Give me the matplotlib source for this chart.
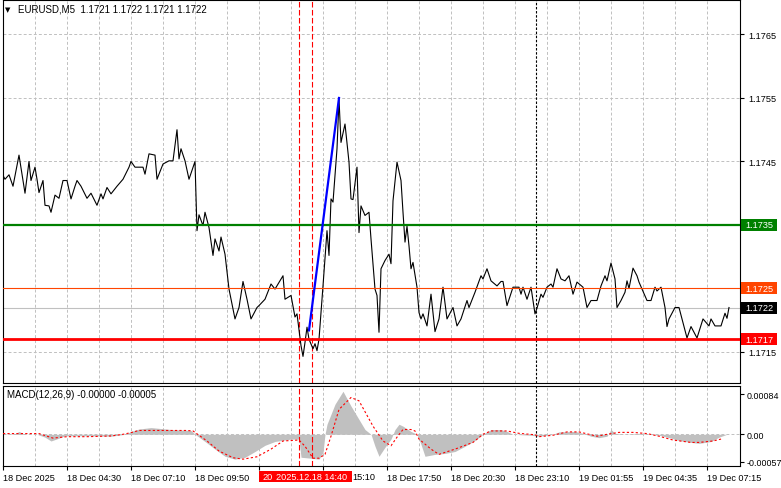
import matplotlib
matplotlib.use("Agg")
import matplotlib.pyplot as plt
import matplotlib.transforms as mtransforms
from matplotlib.patches import Rectangle

plt.rcParams['font.family'] = ['Liberation Sans', 'DejaVu Sans']

# EURUSD M5 close line, bar index from the left edge of the chart
bars = [0, 1, 3, 5, 8, 11, 13, 14, 16, 17, 18, 20, 21, 23, 24, 26, 28, 30, 32, 34,
        36, 37, 39, 42, 44, 47, 49, 50, 52, 54, 57, 60, 63, 64, 66, 70, 71, 73, 76, 77,
        80, 83, 85, 87, 88, 89, 91, 93, 95, 96, 97, 98, 100, 101, 103, 105, 106, 108, 109, 111,
        113, 116, 118, 120, 122, 124, 127, 128, 131, 134, 136, 139, 140, 141, 144, 146, 147, 149, 150, 151,
        152, 153, 155, 156, 157, 158, 159, 160, 162, 163, 164, 165, 167, 168, 169, 171, 173, 174, 175, 177,
        178, 179, 181, 183, 184, 186, 187, 188, 189, 191, 193, 194, 195, 197, 199, 200, 201, 202, 203, 204,
        205, 207, 208, 209, 210, 212, 214, 216, 218, 220, 222, 225, 227, 229, 232, 233, 236, 239, 240, 242,
        244, 247, 249, 250, 252, 255, 258, 259, 260, 262, 264, 266, 267, 269, 270, 272, 274, 275, 277, 279,
        281, 283, 285, 287, 290, 292, 294, 297, 299, 301, 302, 304, 306, 307, 309, 311, 312, 313, 315, 317,
        318, 322, 324, 326, 327, 329, 331, 332, 333, 336, 338, 342, 344, 347, 350, 353, 354, 356, 359, 361,
        362, 363]
closes = [1.17428, 1.17422, 1.17429, 1.17411, 1.17460, 1.17400, 1.17450, 1.17420, 1.17441, 1.17422,
          1.17401, 1.17420, 1.17381, 1.17380, 1.17370, 1.17397, 1.17392, 1.17420, 1.17420, 1.17391,
          1.17411, 1.17420, 1.17411, 1.17392, 1.17400, 1.17381, 1.17399, 1.17391, 1.17409, 1.17399,
          1.17411, 1.17422, 1.17441, 1.17450, 1.17441, 1.17441, 1.17430, 1.17462, 1.17460, 1.17422,
          1.17446, 1.17451, 1.17451, 1.17500, 1.17454, 1.17470, 1.17451, 1.17422, 1.17441, 1.17450,
          1.17341, 1.17366, 1.17349, 1.17370, 1.17346, 1.17302, 1.17328, 1.17309, 1.17331, 1.17304,
          1.17249, 1.17202, 1.17220, 1.17261, 1.17233, 1.17202, 1.17220, 1.17223, 1.17233, 1.17257,
          1.17249, 1.17265, 1.17270, 1.17233, 1.17239, 1.17205, 1.17210, 1.17160, 1.17143, 1.17165,
          1.17189, 1.17170, 1.17155, 1.17163, 1.17152, 1.17170, 1.17212, 1.17254, 1.17341, 1.17302,
          1.17391, 1.17386, 1.17470, 1.17548, 1.17480, 1.17509, 1.17449, 1.17391, 1.17390, 1.17441,
          1.17338, 1.17380, 1.17365, 1.17370, 1.17328, 1.17249, 1.17239, 1.17181, 1.17281, 1.17294,
          1.17304, 1.17289, 1.17388, 1.17449, 1.17420, 1.17370, 1.17323, 1.17348, 1.17317, 1.17281,
          1.17291, 1.17252, 1.17212, 1.17202, 1.17210, 1.17191, 1.17241, 1.17182, 1.17202, 1.17252,
          1.17202, 1.17220, 1.17191, 1.17202, 1.17231, 1.17220, 1.17244, 1.17270, 1.17265, 1.17281,
          1.17262, 1.17254, 1.17261, 1.17261, 1.17223, 1.17252, 1.17252, 1.17241, 1.17252, 1.17233,
          1.17252, 1.17210, 1.17219, 1.17241, 1.17236, 1.17252, 1.17257, 1.17252, 1.17281, 1.17265,
          1.17262, 1.17270, 1.17241, 1.17260, 1.17252, 1.17220, 1.17231, 1.17231, 1.17254, 1.17270,
          1.17262, 1.17290, 1.17265, 1.17220, 1.17231, 1.17244, 1.17262, 1.17250, 1.17282, 1.17270,
          1.17260, 1.17231, 1.17231, 1.17252, 1.17246, 1.17252, 1.17220, 1.17190, 1.17202, 1.17220,
          1.17220, 1.17172, 1.17190, 1.17172, 1.17202, 1.17191, 1.17202, 1.17191, 1.17191, 1.17211,
          1.17203, 1.17220]

# MACD histogram (grey) and signal line (red dots), in units of 1e-5
hist_bars = [0, 6, 8, 11, 17, 21, 24, 28, 31, 44, 54, 61, 64, 68, 74, 84, 94, 96, 101, 106,
             111, 116, 121, 126, 131, 136, 144, 148, 149, 154, 158, 160, 161, 162, 166, 170, 174, 178, 181, 184,
             186, 188, 191, 194, 196, 198, 200, 204, 207, 209, 211, 216, 221, 226, 231, 236, 240, 244, 249, 252,
             255, 264, 268, 275, 278, 286, 290, 294, 298, 302, 304, 306, 311, 318, 328, 334, 338, 344, 348, 354,
             358, 362]
hist_vals = [0, 1, 6, 0, 0, -6, -14, -8, -3, -3, -4, 0, 6, 11, 14, 10, 8, 0, -15, -31,
             -46, -52, -48, -36, -23, -15, -10, -10, -48, -50, -52, -38, 0, 21, 63, 90, 59, 31, 10, 0,
             -25, -46, -27, -10, 10, 21, 17, 6, 0, -21, -46, -42, -40, -36, -25, -13, 0, 10, 10, 6,
             0, -2, -4, 0, 5, 6, 2, -4, -7, -4, 10, 2, 0, 2, -2, -8, -13, -17, -19, -15,
             -6, 0]
sig_bars = [0, 18, 25, 32, 42, 54, 60, 64, 68, 92, 95, 102, 108, 115, 120, 127, 134, 140, 148, 151,
            155, 158, 161, 164, 168, 174, 178, 185, 190, 194, 197, 200, 204, 206, 208, 214, 218, 226, 235, 240,
            244, 252, 258, 266, 268, 275, 282, 288, 297, 302, 308, 315, 322, 328, 335, 344, 348, 355, 360]
sig_vals = [1.5, 1.5, -8, -5, -5, -3.5, 0, 3.5, 8, 8, 7, -14, -35, -49, -52, -47, -31, -14, -12, -25,
            -50, -50, -42, -4, 52, 77, 70, 17, -14, -24, -6, 10, 10, 7, -10, -31, -42, -31, -17, 0,
            7, 7, 2, -1, -5, -2, 5, 5, -4, 0, 4, 4, 1.5, -4, -12, -17, -17, -14, -9]
hist_vals = [v * 1e-5 for v in hist_vals]
sig_vals = [v * 1e-5 for v in sig_vals]

# levels on the price panel
level_buy = 1.1735
level_mid = 1.1725
level_sell = 1.1717
last_price = 1.1722
trend_bars = [153, 168]
trend_prices = [1.17184, 1.1755]
marker_bars = [148.15, 154.35]
marker_times = ["20", "2025.12.18 14:40"]   # first tag is mostly hidden under the second
day_break = 266.35

price_ticks = [1.1715, 1.1745, 1.1755, 1.1765]
grid_prices = [1.1715, 1.1725, 1.1735, 1.1745, 1.1755, 1.1765]
time_ticks = list(range(0, 353, 32))
time_labels = ["18 Dec 2025", "18 Dec 04:30", "18 Dec 07:10", "18 Dec 09:50", "",
               "", "18 Dec 17:50", "18 Dec 20:30", "18 Dec 23:10", "19 Dec 01:55",
               "19 Dec 04:35", "19 Dec 07:15"]
macd_ticks = [-0.00057, 0.0, 0.00084]
macd_labels = ["-0.00057", "0.00", "0.00084"]

W, H = 781, 489
GRID = '#c0c0c0'
FS = 6.6


def box(x0, y0, x1, y1):
    return [x0 / W, 1 - y1 / H, (x1 - x0) / W, (y1 - y0) / H]


fig = plt.figure(figsize=(W / 100, H / 100), dpi=100)
ax = fig.add_axes(box(3, 1, 740, 384))
mx = fig.add_axes(box(3, 387, 740, 467))

for a in (ax, mx):
    a.set_xlim(0, 368.5)
    for s in a.spines.values():
        s.set_linewidth(0.8)
        s.set_color('black')
    for g in range(16, 368, 16):
        a.axvline(g, color=GRID, ls=(0, (3, 2.2)), lw=0.7, zorder=0)
    for b in marker_bars:
        a.axvline(b, color='red', ls=(0, (5, 2.2)), lw=0.8, zorder=2)
    a.axvline(day_break, color='black', ls=(0, (2.2, 1.5)), lw=0.8, zorder=2)

# price panel
ax.set_ylim(1.171011, 1.177043)
for p in grid_prices:
    ax.axhline(p, color=GRID, ls=(0, (3, 2.2)), lw=0.7, zorder=0)
ax.axhline(last_price, color='#c0c0c0', lw=0.8, zorder=1)
ax.plot(bars, closes, color='black', lw=0.8, zorder=3)
ax.axhline(level_buy, color='#008000', lw=1.6, zorder=4)
ax.axhline(level_mid, color='#ff4500', lw=0.8, zorder=4)
ax.axhline(level_sell, color='#ff0000', lw=2.0, zorder=4)
ax.plot(trend_bars, trend_prices, color='#0000ff', lw=1.6, zorder=5)

ax.yaxis.tick_right()
ax.set_yticks(price_ticks)
ax.set_yticklabels([f"{p:.4f}" for p in price_ticks])
ax.tick_params(axis='y', length=3, width=0.8, pad=3, labelsize=FS)
ax.set_xticks([])

tr = mtransforms.blended_transform_factory(ax.transAxes, ax.transData)
tag_h = 12 * (1.177043 - 1.171011) / 383
for val, col in [(level_buy, '#008000'), (level_mid, '#ff4500'),
                 (last_price, 'black'), (level_sell, '#ff0000')]:
    ax.add_patch(Rectangle((1 + 1 / 737, val - tag_h / 2), 36 / 737, tag_h, transform=tr,
                           fc=col, ec='none', clip_on=False, zorder=6))
    ax.text(1 + 19 / 737, val, f"{val:.4f}", transform=tr, ha='center', va='center',
            fontsize=FS, color='white', clip_on=False, zorder=7)

# MACD panel
mx.set_ylim(-0.000663, 0.00101)
mx.axhline(0, color=GRID, ls=(0, (3, 2.2)), lw=0.7, zorder=0)
mx.fill_between(hist_bars, 0, hist_vals, color='#c0c0c0', lw=0, zorder=1)
mx.plot(sig_bars, sig_vals, color='red', ls=(0, (2, 2)), lw=0.8, zorder=3)
mx.yaxis.tick_right()
mx.set_yticks(macd_ticks)
mx.set_yticklabels(macd_labels)
mx.set_xticks(time_ticks)
mx.set_xticklabels(time_labels)
for lab in mx.get_xticklabels():
    lab.set_ha('left')
mx.tick_params(axis='x', length=3, width=0.8, pad=2, labelsize=FS)
mx.tick_params(axis='y', length=3, width=0.8, pad=1.5, labelsize=6.4)

# time tags of the vertical markers (second one drawn over the first)
bt = mtransforms.blended_transform_factory(mx.transData, fig.transFigure)
tag_w = 40
for k, (b, t) in enumerate(zip(marker_bars, marker_times)):
    fig.add_artist(Rectangle((b - tag_w / 2, 1 - 483 / H), tag_w, 11 / H, transform=bt,
                             fc='red', ec='none', zorder=5 + 2 * k))
    if k == 0:
        fig.text(b - tag_w / 2 + 1.8, 1 - 477.5 / H, t, transform=bt, ha='left', va='center',
                 fontsize=FS, color='white', zorder=6 + 2 * k)
    else:
        fig.text(b, 1 - 477.5 / H, t, transform=bt, ha='center', va='center',
                 fontsize=FS, color='white', zorder=6 + 2 * k)
# tail of the "18 Dec 15:10" label left visible next to the tag
fig.text(marker_bars[1] + tag_w / 2 + 0.3, 1 - 477.5 / H, "15:10", transform=bt,
         ha='left', va='center', fontsize=FS, zorder=4)

fig.text(5 / W, 1 - 10 / H, "\u25bc", fontsize=5, family='DejaVu Sans', va='center')
fig.text(18 / W, 1 - 10 / H, "EURUSD,M5  1.1721 1.1722 1.1721 1.1722", fontsize=7, va='center')
fig.text(7 / W, 1 - 395.5 / H, "MACD(12,26,9) -0.00000 -0.00005", fontsize=7, va='center')

fig.savefig("out.png", dpi=100)
